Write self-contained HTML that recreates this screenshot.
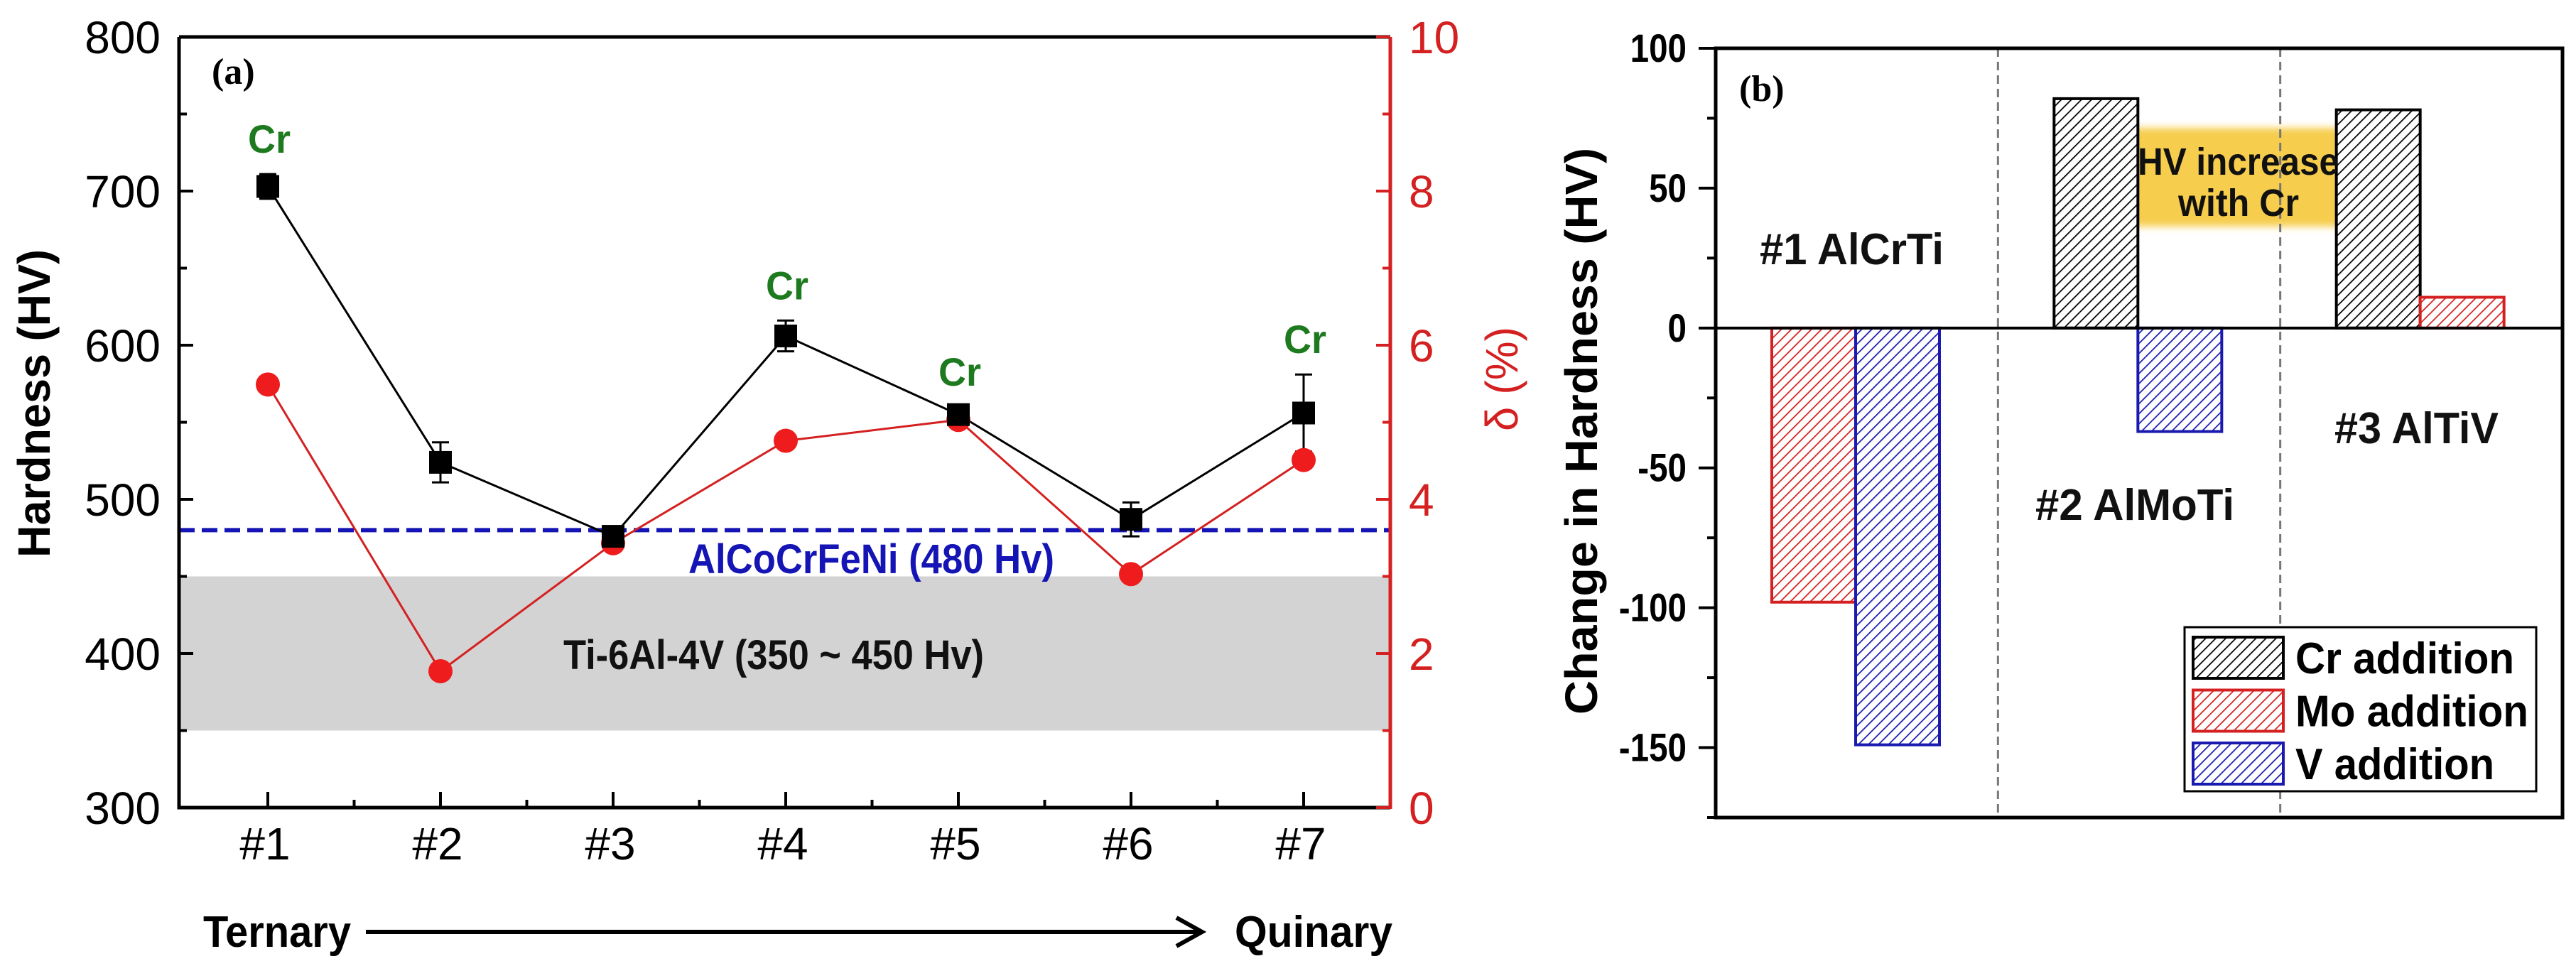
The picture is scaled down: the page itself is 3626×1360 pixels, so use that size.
<!DOCTYPE html>
<html><head><meta charset="utf-8"><style>
html,body{margin:0;padding:0;background:#fff;}
svg{display:block;}
text{font-family:"Liberation Sans",Arial,sans-serif;}
</style></head><body>
<svg id="fig" width="3626" height="1360" viewBox="0 0 3626 1360">
<defs>
<pattern id="hatchK" patternUnits="userSpaceOnUse" width="10" height="10" patternTransform="rotate(45)"><rect width="10" height="10" fill="#fff"/><line x1="0" y1="0" x2="0" y2="10" stroke="#000" stroke-width="3.5"/></pattern>
<pattern id="hatchR" patternUnits="userSpaceOnUse" width="10" height="10" patternTransform="rotate(45)"><rect width="10" height="10" fill="#fff"/><line x1="0" y1="0" x2="0" y2="10" stroke="#d42020" stroke-width="3.5"/></pattern>
<pattern id="hatchB" patternUnits="userSpaceOnUse" width="10" height="10" patternTransform="rotate(45)"><rect width="10" height="10" fill="#fff"/><line x1="0" y1="0" x2="0" y2="10" stroke="#1a1ab0" stroke-width="3.5"/></pattern>
<filter id="blur" x="-10%" y="-20%" width="120%" height="140%"><feGaussianBlur stdDeviation="5"/></filter>
</defs>
<g id="plotA"></g>
<g id="plotB"></g>
</svg>
<script>
// Panel (a) data
const catsA = ["#1","#2","#3","#4","#5","#6","#7"];
const hardness = [703,524,476,606,555,487,556];
const hardErr = [8,13,4,10,5,11,25];
const delta = [5.49,1.77,3.43,4.76,5.03,3.03,4.51];
const crLabelIdx = [0,3,4,6];
const hvTicks = [300,400,500,600,700,800];
const dTicks = [0,2,4,6,8,10];
// Panel (b) data
const groupsB = ["#1 AlCrTi","#2 AlMoTi","#3 AlTiV"];
const crAdd = [null,82,78];
const moAdd = [-98,null,11];
const vAdd = [-149,-37,null];
const bTicks = [100,50,0,-50,-100,-150];

const NS="http://www.w3.org/2000/svg";
function mk(parent,tag,attrs,txt){const e=document.createElementNS(NS,tag);for(const k in attrs)e.setAttribute(k,attrs[k]);if(txt!==undefined)e.textContent=txt;parent.appendChild(e);return e;}

// ---------- Panel A ----------
const A=document.getElementById('plotA');
const aL=252,aR=1957,aT=52,aB=1137;
const xA=i=>377+i*243;
const yA=v=>aB-(v-300)/500*(aB-aT);
const yD=v=>aB-v/10*(aB-aT);

let band=mk(A,'rect',{x:aL,y:yA(450),width:aR-aL,height:yA(350)-yA(450),fill:'#d3d3d3'});


let bl=mk(A,'text',{x:793,y:942,'font-size':58,'font-weight':'bold',fill:'#111',textLength:592,lengthAdjust:'spacingAndGlyphs'},'Ti-6Al-4V (350 ~ 450 Hv)');


let ref=mk(A,'line',{x1:aL,x2:aR,y1:yA(480),y2:yA(480),stroke:'#1515b5','stroke-width':6,'stroke-dasharray':'22 10'});


let rl=mk(A,'text',{x:969,y:807,'font-size':58,'font-weight':'bold',fill:'#1515b5',textLength:515,lengthAdjust:'spacingAndGlyphs'},'AlCoCrFeNi (480 Hv)');



let sp=mk(A,'path',{d:`M${aL},${aT} H${aR} M${aL},${aT} V${aB} H${aR}`,stroke:'#000','stroke-width':5,fill:'none'});


let rsp=mk(A,'line',{x1:aR,x2:aR,y1:aT,y2:aB+2,stroke:'#d42020','stroke-width':5});



hvTicks.forEach((v,i)=>{
  let t=mk(A,'line',{x1:aL,x2:aL+20,y1:yA(v),y2:yA(v),stroke:'#000','stroke-width':4});
  
  
  if(i<hvTicks.length-1){let m=mk(A,'line',{x1:aL,x2:aL+11,y1:yA(v+50),y2:yA(v+50),stroke:'#000','stroke-width':4});
  
  }
  let l=mk(A,'text',{x:226,y:yA(v)+23,'font-size':64,'text-anchor':'end',fill:'#000'},String(v));
  
  
});
dTicks.forEach((v,i)=>{
  let t=mk(A,'line',{x1:aR-20,x2:aR,y1:yD(v),y2:yD(v),stroke:'#d42020','stroke-width':4});
  
  
  if(i<dTicks.length-1){let m=mk(A,'line',{x1:aR-11,x2:aR,y1:yD(v+1),y2:yD(v+1),stroke:'#d42020','stroke-width':4});
  
  }
  let l=mk(A,'text',{x:1983,y:yD(v)+23,'font-size':64,fill:'#d42020'},String(v));
  
  
});
catsA.forEach((c,i)=>{
  let t=mk(A,'line',{x1:xA(i),x2:xA(i),y1:aB,y2:aB-22,stroke:'#000','stroke-width':4});
  
  
  if(i<catsA.length-1){let m=mk(A,'line',{x1:xA(i+0.5),x2:xA(i+0.5),y1:aB,y2:aB-11,stroke:'#000','stroke-width':4});
  
  }
  let l=mk(A,'text',{x:xA(i)-4,y:1210,'font-size':64,'text-anchor':'middle',fill:'#000'},c);
  
  
});
let yt=mk(A,'text',{x:-217,y:0,'font-size':64,'font-weight':'bold',fill:'#000',textLength:434,lengthAdjust:'spacingAndGlyphs',transform:'translate(70 568) rotate(-90)'},'Hardness (HV)');


let dt=mk(A,'text',{x:-74,y:0,'font-size':64,fill:'#d42020',textLength:147,lengthAdjust:'spacingAndGlyphs',transform:'translate(2136 533) rotate(-90)'},'δ (%)');


let pa=mk(A,'text',{x:298,y:118,'font-size':52,'font-weight':'bold',fill:'#000',style:'font-family:"Liberation Serif",serif'},'(a)');



let hp=hardness.map((v,i)=>`${xA(i)},${yA(v)}`).join(' ');
let hl=mk(A,'polyline',{points:hp,fill:'none',stroke:'#000','stroke-width':3});


let dp=delta.map((v,i)=>`${xA(i)},${yD(v)}`).join(' ');
let dl=mk(A,'polyline',{points:dp,fill:'none',stroke:'#d42020','stroke-width':3});


hardness.forEach((v,i)=>{
  const x=xA(i),e=hardErr[i];
  let eb=mk(A,'path',{d:`M${x},${yA(v+e)} V${yA(v-e)} M${x-12},${yA(v+e)} H${x+12} M${x-12},${yA(v-e)} H${x+12}`,stroke:'#000','stroke-width':3,fill:'none'});
  
  
});
delta.forEach((v,i)=>{
  let c=mk(A,'circle',{cx:xA(i),cy:yD(v),r:17,fill:'#ee1c1c'});
  
  
});
hardness.forEach((v,i)=>{
  let s=mk(A,'rect',{x:xA(i)-16,y:yA(v)-16,width:32,height:32,fill:'#000'});
  
  
});
crLabelIdx.forEach(i=>{
  const y=yA(hardness[i]+hardErr[i])-30;
  let t=mk(A,'text',{x:xA(i)-28,y:y,'font-size':56,'font-weight':'bold',fill:'#1e7a1e',textLength:60,lengthAdjust:'spacingAndGlyphs'},'Cr');
  
  
});
let tern=mk(A,'text',{x:286,y:1333,'font-size':62,'font-weight':'bold',fill:'#000',textLength:208,lengthAdjust:'spacingAndGlyphs'},'Ternary');


let arr=mk(A,'path',{d:'M515,1312 H1690 M1656,1292 L1692,1312 L1656,1332',stroke:'#000','stroke-width':6,fill:'none'});


let quin=mk(A,'text',{x:1738,y:1333,'font-size':62,'font-weight':'bold',fill:'#000',textLength:222,lengthAdjust:'spacingAndGlyphs'},'Quinary');



// ---------- Panel B ----------
const B=document.getElementById('plotB');
const bL=2415,bR=3607,bT=68,bB=1151;
const yB=v=>bT+(100-v)*(bB-bT)/275;
const gw=(bR-bL)/3;
const gx=i=>bL+i*gw;
const barW=118;

let hvbox=mk(B,'rect',{x:2983,y:180,width:345,height:139,rx:22,fill:'#f5c430','fill-opacity':0.85,filter:'url(#blur)'});



for(let i=1;i<3;i++){
  let d=mk(B,'line',{x1:gx(i),x2:gx(i),y1:bT,y2:bB,stroke:'#777','stroke-width':3,'stroke-dasharray':'12 7'});
  
  
}
const series=[[crAdd,'url(#hatchK)','#000'],[moAdd,'url(#hatchR)','#d42020'],[vAdd,'url(#hatchB)','#1a1ab0']];
groupsB.forEach((g,i)=>{
  let slot=0;
  series.forEach(([arr,fill,stroke],s)=>{
    const v=arr[i]; if(v===null) return;
    const x=gx(i)+79+slot*barW; slot++;
    const y0=yB(Math.max(v,0)),y1=yB(Math.min(v,0));
    let r=mk(B,'rect',{x:x,y:y0,width:barW,height:y1-y0,fill:fill,stroke:stroke,'stroke-width':4});
    
    
  });
});
let hvt1=mk(B,'text',{x:3009,y:246,'font-size':54,'font-weight':'bold',fill:'#111',textLength:283,lengthAdjust:'spacingAndGlyphs'},'HV increase');


let hvt2=mk(B,'text',{x:3066,y:304,'font-size':54,'font-weight':'bold',fill:'#111',textLength:170,lengthAdjust:'spacingAndGlyphs'},'with Cr');



let zero=mk(B,'line',{x1:bL,x2:bR,y1:yB(0),y2:yB(0),stroke:'#000','stroke-width':4});


let fr=mk(B,'rect',{x:bL,y:bT,width:bR-bL,height:bB-bT,fill:'none',stroke:'#000','stroke-width':5});


bTicks.forEach(v=>{
  let t=mk(B,'line',{x1:bL-24,x2:bL,y1:yB(v),y2:yB(v),stroke:'#000','stroke-width':4});
  
  
  let m=mk(B,'line',{x1:bL-12,x2:bL,y1:yB(v-25),y2:yB(v-25),stroke:'#000','stroke-width':4});
  
  
  let l=mk(B,'text',{x:2374,y:yB(v)+19,'font-size':56,'font-weight':'bold','text-anchor':'end',fill:'#000',transform:`translate(2374 0) scale(0.85 1) translate(-2374 0)`},String(v));
  
  
});
let byt=mk(B,'text',{x:-399,y:0,'font-size':64,'font-weight':'bold',fill:'#000',textLength:798,lengthAdjust:'spacingAndGlyphs',transform:'translate(2248 607) rotate(-90)'},'Change in Hardness (HV)');


let pb=mk(B,'text',{x:2448,y:142,'font-size':52,'font-weight':'bold',fill:'#000',style:'font-family:"Liberation Serif",serif'},'(b)');


const gl=[[2477,372,259],[2865,732,280],[3286,624,231]];
groupsB.forEach((g,i)=>{
  let t=mk(B,'text',{x:gl[i][0],y:gl[i][1],'font-size':62,'font-weight':'bold',fill:'#111',textLength:gl[i][2],lengthAdjust:'spacingAndGlyphs'},g);
  
  
});
let lg=mk(B,'rect',{x:3075,y:883,width:495,height:231,fill:'#fff',stroke:'#000','stroke-width':3});


const legNames=['Cr addition','Mo addition','V addition'];
const legLen=[308,328,280];
legNames.forEach((n,i)=>{
  const cy=926+i*74.5;
  let sw=mk(B,'rect',{x:3087,y:cy-29,width:127,height:58,fill:series[i][1],stroke:series[i][2],'stroke-width':4});
  
  
  let t=mk(B,'text',{x:3231,y:cy+22,'font-size':62,'font-weight':'bold',fill:'#000',textLength:legLen[i],lengthAdjust:'spacingAndGlyphs'},n);
  
  
});
</script>
</body></html>
